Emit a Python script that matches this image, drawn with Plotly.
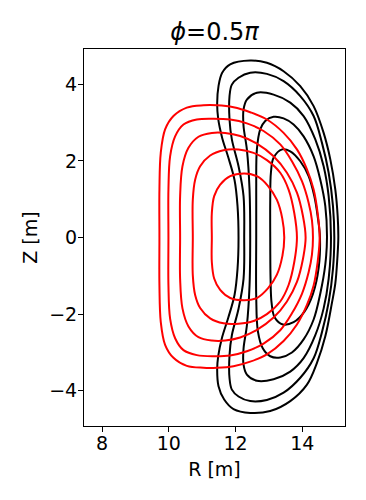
import plotly.graph_objects as go

# ---- data (R, Z in metres) ----
# red surfaces, inner -> outer
red1_r = [11.29, 11.29, 11.36, 11.54, 11.84, 12.27, 12.64, 12.97, 13.24, 13.40, 13.46,
          13.40, 13.24, 12.97, 12.64, 12.27, 11.84, 11.54, 11.36, 11.29, 11.29]
red1_z = [0.00, 0.64, 1.08, 1.38, 1.60, 1.67, 1.60, 1.35, 0.98, 0.50, 0.00,
          -0.50, -0.97, -1.33, -1.58, -1.64, -1.58, -1.37, -1.07, -0.64, 0.00]

red2_r = [10.72, 10.72, 10.79, 10.94, 11.24, 11.64, 12.09, 12.54, 12.94, 13.34, 13.59, 13.76, 13.84,
          13.76, 13.59, 13.34, 12.94, 12.54, 12.09, 11.64, 11.24, 10.94, 10.79, 10.72, 10.72]
red2_z = [0.00, 0.99, 1.51, 1.86, 2.14, 2.28, 2.30, 2.21, 2.02, 1.69, 1.25, 0.64, 0.00,
          -0.64, -1.24, -1.67, -2.00, -2.18, -2.25, -2.24, -2.11, -1.84, -1.50, -0.99, 0.00]

red3_r = [10.34, 10.34, 10.41, 10.59, 10.89, 11.29, 11.69, 12.14, 12.64, 13.14, 13.54, 13.84, 14.02, 14.10,
          14.02, 13.84, 13.54, 13.14, 12.64, 12.14, 11.69, 11.29, 10.89, 10.59, 10.41, 10.34, 10.34]
red3_z = [0.00, 1.08, 1.86, 2.34, 2.63, 2.73, 2.73, 2.65, 2.45, 2.12, 1.69, 1.17, 0.56, 0.00,
          -0.56, -1.16, -1.67, -2.09, -2.41, -2.61, -2.69, -2.69, -2.60, -2.32, -1.85, -1.08, 0.00]

red4_r = [9.99, 9.99, 10.04, 10.19, 10.44, 10.84, 11.34, 11.84, 12.34, 12.84, 13.34, 13.69, 13.99, 14.19, 14.29, 14.32,
          14.29, 14.19, 13.99, 13.69, 13.34, 12.84, 12.34, 11.84, 11.34, 10.84, 10.44, 10.19, 10.04, 9.99, 9.99]
red4_z = [0.00, 1.25, 2.12, 2.64, 2.95, 3.08, 3.10, 3.08, 2.98, 2.78, 2.43, 1.99, 1.47, 0.91, 0.45, 0.00,
          -0.45, -0.91, -1.47, -1.98, -2.42, -2.77, -2.97, -3.08, -3.10, -3.07, -2.94, -2.63, -2.12, -1.25, 0.00]

red5_r = [9.72, 9.72, 9.76, 9.89, 10.14, 10.54, 11.04, 11.44, 11.94, 12.44, 12.94, 13.44, 13.84, 14.14, 14.34, 14.46, 14.52,
          14.46, 14.34, 14.14, 13.84, 13.44, 12.94, 12.44, 11.94, 11.44, 11.04, 10.54, 10.14, 9.89, 9.76, 9.72, 9.72]
red5_z = [0.00, 1.25, 2.21, 2.82, 3.17, 3.39, 3.45, 3.45, 3.40, 3.27, 3.08, 2.73, 2.30, 1.78, 1.25, 0.64, 0.00,
          -0.64, -1.25, -1.76, -2.27, -2.70, -3.05, -3.24, -3.36, -3.40, -3.40, -3.35, -3.14, -2.80, -2.20, -1.25, 0.00]

# black surfaces, inner -> outer
blk1_r = [13.04, 13.04, 13.06, 13.14, 13.40, 13.64, 13.94, 14.19, 14.36, 14.46, 14.53,
          14.49, 14.32, 14.06, 13.74, 13.42, 13.17, 13.08, 13.05, 13.04]
blk1_z = [0.00, 0.99, 1.69, 2.08, 2.30, 2.25, 1.99, 1.60, 1.08, 0.56, 0.00,
          -0.80, -1.47, -1.94, -2.21, -2.27, -2.08, -1.70, -1.10, 0.00]

blk2_r = [12.62, 12.62, 12.64, 12.74, 12.89, 13.14, 13.44, 13.74, 14.04, 14.34, 14.54, 14.69, 14.74,
          14.69, 14.54, 14.34, 14.04, 13.69, 13.34, 13.04, 12.82, 12.67, 12.62, 12.62]
blk2_z = [0.00, 1.25, 2.30, 2.82, 3.04, 3.15, 3.11, 2.95, 2.64, 2.12, 1.51, 0.82, 0.00,
          -0.70, -1.46, -2.14, -2.66, -3.00, -3.13, -3.10, -2.90, -2.45, -1.53, 0.00]

blk3_r = [12.44, 12.42, 12.34, 12.24, 12.24, 12.34, 12.64, 13.14, 13.64, 14.04, 14.39, 14.64, 14.79, 14.86,
          14.79, 14.64, 14.39, 14.04, 13.64, 13.14, 12.64, 12.34, 12.24, 12.24, 12.34, 12.42, 12.44]
blk3_z = [0.00, 1.25, 2.30, 2.91, 3.34, 3.60, 3.78, 3.73, 3.52, 3.17, 2.56, 1.86, 1.08, 0.00,
          -1.08, -1.85, -2.55, -3.15, -3.50, -3.70, -3.74, -3.58, -3.32, -2.90, -2.30, -1.25, 0.00]

blk4_r = [12.26, 12.24, 12.09, 11.89, 11.82, 11.82, 11.89, 12.09, 12.44, 12.94, 13.44, 13.94, 14.34, 14.59, 14.79, 14.92, 14.96,
          14.92, 14.79, 14.59, 14.34, 13.94, 13.44, 12.94, 12.44, 12.09, 11.89, 11.82, 11.82, 11.89, 12.09, 12.24, 12.26]
blk4_z = [0.00, 1.08, 1.86, 2.56, 3.08, 3.69, 3.99, 4.17, 4.30, 4.27, 4.08, 3.69, 3.17, 2.47, 1.69, 0.82, 0.00,
          -0.82, -1.69, -2.47, -3.15, -3.66, -4.05, -4.24, -4.27, -4.15, -3.97, -3.67, -3.07, -2.55, -1.86, -1.08, 0.00]

blk5_r = [12.09, 12.06, 11.97, 11.78, 11.60, 11.48, 11.45, 11.49, 11.60, 11.84, 12.44, 12.94, 13.44, 13.94, 14.34, 14.64, 14.84, 14.99, 15.06, 15.08,
          15.05, 14.99, 14.89, 14.69, 14.44, 14.14, 13.64, 13.04, 12.44, 11.94, 11.66, 11.49, 11.45, 11.48, 11.60, 11.78, 11.97, 12.06, 12.09]
blk5_z = [0.00, 0.82, 1.50, 2.10, 2.60, 3.10, 3.50, 3.95, 4.30, 4.52, 4.62, 4.56, 4.34, 3.95, 3.43, 2.73, 2.04, 1.25, 0.56, 0.00,
          -0.56, -1.20, -1.70, -2.58, -3.27, -3.84, -4.27, -4.53, -4.58, -4.48, -4.23, -3.88, -3.45, -3.10, -2.60, -2.10, -1.50, -0.82, 0.00]

black_r = [blk1_r, blk2_r, blk3_r, blk4_r, blk5_r]
black_z = [blk1_z, blk2_z, blk3_z, blk4_z, blk5_z]
red_r = [red1_r, red2_r, red3_r, red4_r, red5_r]
red_z = [red1_z, red2_z, red3_z, red4_z, red5_z]

x_ticks = [8, 10, 12, 14]
y_ticks = [-4, -2, 0, 2, 4]

fig = go.Figure()
for r, z in zip(black_r, black_z):
    fig.add_trace(go.Scatter(x=r, y=z, mode="lines",
                             line=dict(color="black", width=2, shape="spline", smoothing=1.0),
                             showlegend=False, hoverinfo="skip"))
for r, z in zip(red_r, red_z):
    fig.add_trace(go.Scatter(x=r, y=z, mode="lines",
                             line=dict(color="red", width=2, shape="spline", smoothing=1.0),
                             showlegend=False, hoverinfo="skip"))

font_family = "DejaVu Sans"
axis_common = dict(showgrid=False, zeroline=False, showline=True, linecolor="black", linewidth=1,
                   mirror=True, ticks="outside", ticklen=5, tickwidth=1, tickcolor="black",
                   tickfont=dict(family=font_family, size=19, color="black"))

# the page body adds an 8 px offset, margins compensate for it
fig.update_layout(
    width=366, height=500,
    margin=dict(l=76, r=29, t=41, b=82),
    paper_bgcolor="white", plot_bgcolor="white",
    font=dict(family=font_family, size=19, color="black"),
    title=dict(text="<i>ϕ</i>=0.5<i>π</i>", xref="paper", x=0.5, xanchor="center",
               yref="container", y=1 - 24 / 500, yanchor="middle",
               font=dict(family=font_family, size=24, color="black")),
    xaxis=dict(range=[7.46, 15.28], tickvals=x_ticks, ticktext=[str(v) for v in x_ticks],
               ticklabelstandoff=-5,
               title=dict(text="R [m]", standoff=9, font=dict(family=font_family, size=19)),
               **axis_common),
    yaxis=dict(range=[-4.92, 4.92], tickvals=y_ticks, ticktext=[("−" + str(-v)) if v < 0 else str(v) for v in y_ticks],
               ticklabelstandoff=-3,
               title=dict(text="Z [m]", standoff=6, font=dict(family=font_family, size=19)),
               **axis_common),
)

fig.write_html("out.html")
